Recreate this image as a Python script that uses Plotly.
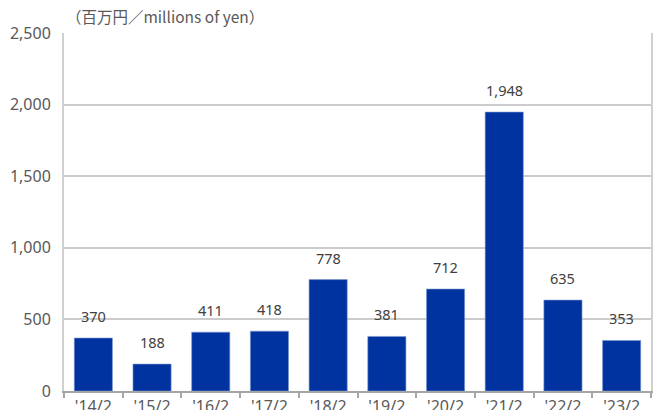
import plotly.graph_objects as go

categories = ["'14/2", "'15/2", "'16/2", "'17/2", "'18/2", "'19/2", "'20/2", "'21/2", "'22/2", "'23/2"]
values = [370, 188, 411, 418, 778, 381, 712, 1948, 635, 353]
value_labels = ["370", "188", "411", "418", "778", "381", "712", "1,948", "635", "353"]
y_ticks = [0, 500, 1000, 1500, 2000, 2500]
y_tick_labels = ["0", "500", "1,000", "1,500", "2,000", "2,500"]

font_family = "Noto Sans, Noto Sans CJK JP, sans-serif"
grey = "#595959"

fig = go.Figure()
fig.add_trace(go.Bar(
    x=categories, y=values,
    marker=dict(color="#0033A0", line=dict(color="#7f99cf", width=0.6)),
    width=0.65,
))

for c, v, t in zip(categories, values, value_labels):
    fig.add_annotation(x=c, y=v, text=t, showarrow=False, yanchor="bottom",
                       yshift=10, font=dict(size=14.5, color="#404040", family=font_family))

fig.add_annotation(xref="paper", yref="paper", x=0.0, y=1.0, xanchor="left", yanchor="bottom",
                   yshift=4, xshift=0, text="（百万円／millions of yen）", showarrow=False,
                   font=dict(size=15.5, color=grey, family="Noto Sans CJK JP, sans-serif"))

fig.update_layout(
    width=658, height=410,
    margin=dict(l=64, r=7, t=33, b=19),
    plot_bgcolor="white", paper_bgcolor="white",
    showlegend=False,
    font=dict(family=font_family, color=grey, size=16),
    xaxis=dict(showline=True, linecolor="#a6a6a6", linewidth=2, ticks="outside",
               tickson="boundaries", tickcolor="#a6a6a6", ticklen=5, tickwidth=1.5,
               tickfont=dict(size=16, color=grey), mirror=False, automargin=False),
    yaxis=dict(range=[0, 2500], tickvals=y_ticks, ticktext=y_tick_labels,
               showgrid=True, gridcolor="#cccccc", gridwidth=1.5,
               showline=True, linecolor="#d0d0d0", linewidth=2, mirror=True,
               tickfont=dict(size=16, color=grey), ticks="", zeroline=False,
               ticklabelstandoff=8, automargin=False),
)

fig.write_html("out.html", config={"displayModeBar": False},
               post_script="document.body.style.margin='0';document.body.style.overflow='hidden';")
